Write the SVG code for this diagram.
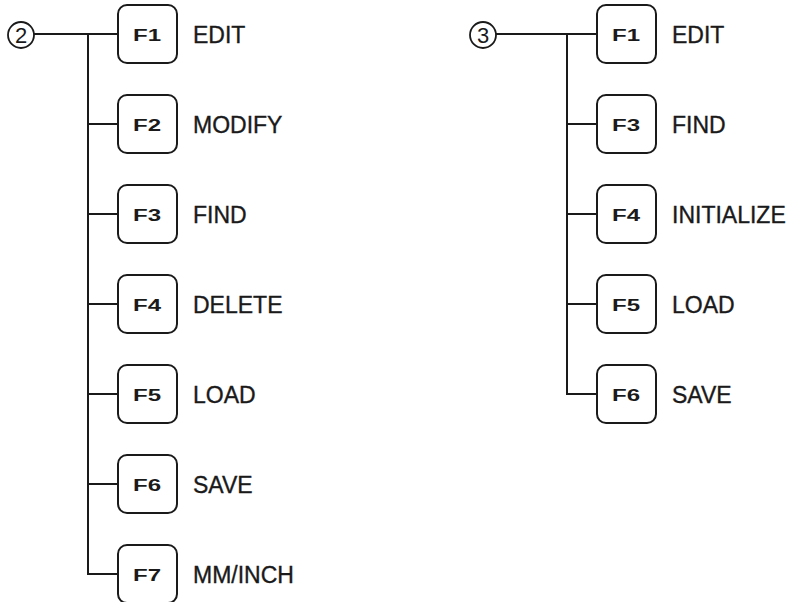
<svg xmlns="http://www.w3.org/2000/svg" width="797" height="602" viewBox="0 0 797 602">
  <style>
    .wire { fill: none; stroke: #1a1a1a; stroke-width: 2; }
    .key { fill: #ffffff; stroke: #1a1a1a; stroke-width: 2; }
    .keytxt { font-family: "Liberation Sans", Arial, sans-serif; font-weight: bold; font-size: 16px; fill: #1a1a1a; }
    .lbl { font-family: "Liberation Sans", Arial, sans-serif; font-size: 23px; fill: #1a1a1a; stroke: #1a1a1a; stroke-width: 0.35; }
    .num { font-family: "Liberation Sans", Arial, sans-serif; font-size: 22px; fill: #1a1a1a; text-anchor: middle; }
    .ring { fill: #ffffff; stroke: #1a1a1a; stroke-width: 1.8; }
  </style>
  <rect width="797" height="602" fill="#ffffff"/>

  <!-- connectors -->
  <g id="connectors">
    <!-- menu 2 -->
    <path class="wire" d="M34 34 H118"/>
    <path class="wire" d="M88 34 V574 H118"/>
    <path class="wire" d="M88 124 H118 M88 214 H118 M88 304 H118 M88 394 H118 M88 484 H118"/>
    <!-- menu 3 -->
    <path class="wire" d="M496 34 H597"/>
    <path class="wire" d="M567 34 V394 H597"/>
    <path class="wire" d="M567 124 H597 M567 214 H597 M567 304 H597"/>
  </g>

  <!-- menu 2 root -->
  <g id="menu2">
    <circle class="ring" cx="21" cy="35" r="13"/>
    <text class="num" x="21" y="43">2</text>
  </g>
  <g id="m2-f1"><rect class="key" x="118" y="5" width="59" height="58" rx="9"/><text class="keytxt" x="133" y="40.5" textLength="28" lengthAdjust="spacingAndGlyphs">F1</text><text class="lbl" x="193" y="43">EDIT</text></g>
  <g id="m2-f2"><rect class="key" x="118" y="95" width="59" height="58" rx="9"/><text class="keytxt" x="133" y="130.5" textLength="28" lengthAdjust="spacingAndGlyphs">F2</text><text class="lbl" x="193" y="133">MODIFY</text></g>
  <g id="m2-f3"><rect class="key" x="118" y="185" width="59" height="58" rx="9"/><text class="keytxt" x="133" y="220.5" textLength="28" lengthAdjust="spacingAndGlyphs">F3</text><text class="lbl" x="193" y="223">FIND</text></g>
  <g id="m2-f4"><rect class="key" x="118" y="275" width="59" height="58" rx="9"/><text class="keytxt" x="133" y="310.5" textLength="28" lengthAdjust="spacingAndGlyphs">F4</text><text class="lbl" x="193" y="313">DELETE</text></g>
  <g id="m2-f5"><rect class="key" x="118" y="365" width="59" height="58" rx="9"/><text class="keytxt" x="133" y="400.5" textLength="28" lengthAdjust="spacingAndGlyphs">F5</text><text class="lbl" x="193" y="403">LOAD</text></g>
  <g id="m2-f6"><rect class="key" x="118" y="455" width="59" height="58" rx="9"/><text class="keytxt" x="133" y="490.5" textLength="28" lengthAdjust="spacingAndGlyphs">F6</text><text class="lbl" x="193" y="493">SAVE</text></g>
  <g id="m2-f7"><rect class="key" x="118" y="545" width="59" height="58" rx="9"/><text class="keytxt" x="133" y="580.5" textLength="28" lengthAdjust="spacingAndGlyphs">F7</text><text class="lbl" x="193" y="583">MM/INCH</text></g>

  <!-- menu 3 root -->
  <g id="menu3">
    <circle class="ring" cx="483" cy="35" r="13"/>
    <text class="num" x="483" y="43">3</text>
  </g>
  <g id="m3-f1"><rect class="key" x="597" y="5" width="59" height="58" rx="9"/><text class="keytxt" x="612" y="40.5" textLength="28" lengthAdjust="spacingAndGlyphs">F1</text><text class="lbl" x="672" y="43">EDIT</text></g>
  <g id="m3-f3"><rect class="key" x="597" y="95" width="59" height="58" rx="9"/><text class="keytxt" x="612" y="130.5" textLength="28" lengthAdjust="spacingAndGlyphs">F3</text><text class="lbl" x="672" y="133">FIND</text></g>
  <g id="m3-f4"><rect class="key" x="597" y="185" width="59" height="58" rx="9"/><text class="keytxt" x="612" y="220.5" textLength="28" lengthAdjust="spacingAndGlyphs">F4</text><text class="lbl" x="672" y="223">INITIALIZE</text></g>
  <g id="m3-f5"><rect class="key" x="597" y="275" width="59" height="58" rx="9"/><text class="keytxt" x="612" y="310.5" textLength="28" lengthAdjust="spacingAndGlyphs">F5</text><text class="lbl" x="672" y="313">LOAD</text></g>
  <g id="m3-f6"><rect class="key" x="597" y="365" width="59" height="58" rx="9"/><text class="keytxt" x="612" y="400.5" textLength="28" lengthAdjust="spacingAndGlyphs">F6</text><text class="lbl" x="672" y="403">SAVE</text></g>
</svg>
